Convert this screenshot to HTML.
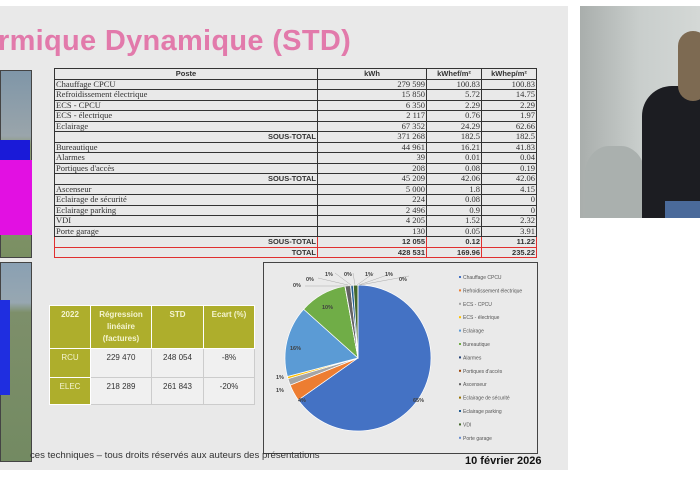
<!DOCTYPE html>
<html><head><meta charset="utf-8"><style>
body{margin:0;width:700px;height:480px;background:#fff;position:relative;overflow:hidden;font-family:"Liberation Sans",sans-serif}
.slide{position:absolute;left:0;top:6px;width:568px;height:464px;background:#e9e9e9}
.title{position:absolute;left:-2px;top:25px;font-size:29px;font-weight:bold;color:#e27aab;white-space:nowrap;letter-spacing:0.3px}
table.t{position:absolute;left:54px;top:68px;border-collapse:collapse;font-family:"Liberation Serif",serif;font-size:8.5px;color:#333}
table.t td{border:1px solid #333;height:9.5px;padding:0 1px;line-height:9px;white-space:nowrap}
table.t td.n{text-align:right}
table.t tr.h td{text-align:center;font-family:"Liberation Sans",sans-serif;font-weight:bold;font-size:7.5px}
table.t tr.s td{font-weight:bold;font-family:"Liberation Sans",sans-serif;font-size:7.5px}
table.t tr.s td.p{font-weight:normal;font-family:"Liberation Serif",serif;font-size:8.5px}
table.t tr.r td{border:1.5px solid #e03030}
table.s{position:absolute;left:49px;top:305px;border-collapse:collapse;font-size:8px;color:#333;text-align:center}
table.s td{border:1px solid #fff;padding:3px 2px;vertical-align:top;box-sizing:border-box;line-height:12px}
table.s td.o{background:#aeae2c;color:#f4f4d0;font-weight:bold}
table.s td.w{background:#f0f0f0;border:1px solid #ccc}
</style></head><body>
<div class="slide"></div>
<div class="title">rmique Dynamique (STD)</div>
<div style="position:absolute;left:0;top:70px;width:32px;height:188px;background:linear-gradient(#7f96a8 0,#9aa5ab 35%,#8b9a74 40%,#7a8f62 100%);border:1px solid #444;box-sizing:border-box"></div>
<div style="position:absolute;left:0;top:140px;width:30px;height:30px;background:#1a1ad8"></div>
<div style="position:absolute;left:0;top:160px;width:32px;height:75px;background:#e210e2"></div>
<div style="position:absolute;left:0;top:262px;width:32px;height:200px;background:linear-gradient(#8aa0b3 0,#97a7b1 20%,#7d8f6a 25%,#738a62 100%);border:1px solid #444;box-sizing:border-box"></div>
<div style="position:absolute;left:0;top:300px;width:10px;height:95px;background:#1f2ee0"></div>
<table class="t">
<tr class="h"><td style="width:260px">Poste</td><td style="width:106px">kWh</td><td style="width:52px">kWhef/m²</td><td style="width:52px">kWhep/m²</td></tr>
<tr><td>Chauffage CPCU</td><td class="n">279 599</td><td class="n">100.83</td><td class="n">100.83</td></tr>
<tr><td>Refroidissement électrique</td><td class="n">15 850</td><td class="n">5.72</td><td class="n">14.75</td></tr>
<tr><td>ECS - CPCU</td><td class="n">6 350</td><td class="n">2.29</td><td class="n">2.29</td></tr>
<tr><td>ECS - électrique</td><td class="n">2 117</td><td class="n">0.76</td><td class="n">1.97</td></tr>
<tr><td>Eclairage</td><td class="n">67 352</td><td class="n">24.29</td><td class="n">62.66</td></tr>
<tr class="s"><td class="n">SOUS-TOTAL</td><td class="n p">371 268</td><td class="n p">182.5</td><td class="n p">182.5</td></tr>
<tr><td>Bureautique</td><td class="n">44 961</td><td class="n">16.21</td><td class="n">41.83</td></tr>
<tr><td>Alarmes</td><td class="n">39</td><td class="n">0.01</td><td class="n">0.04</td></tr>
<tr><td>Portiques d'accès</td><td class="n">208</td><td class="n">0.08</td><td class="n">0.19</td></tr>
<tr class="s"><td class="n">SOUS-TOTAL</td><td class="n p">45 209</td><td class="n p">42.06</td><td class="n p">42.06</td></tr>
<tr><td>Ascenseur</td><td class="n">5 000</td><td class="n">1.8</td><td class="n">4.15</td></tr>
<tr><td>Eclairage de sécurité</td><td class="n">224</td><td class="n">0.08</td><td class="n">0</td></tr>
<tr><td>Eclairage parking</td><td class="n">2 496</td><td class="n">0.9</td><td class="n">0</td></tr>
<tr><td>VDI</td><td class="n">4 205</td><td class="n">1.52</td><td class="n">2.32</td></tr>
<tr><td>Porte garage</td><td class="n">130</td><td class="n">0.05</td><td class="n">3.91</td></tr>
<tr class="s r"><td class="n">SOUS-TOTAL</td><td class="n">12 055</td><td class="n">0.12</td><td class="n">11.22</td></tr>
<tr class="s r"><td class="n">TOTAL</td><td class="n">428 531</td><td class="n">169.96</td><td class="n">235.22</td></tr>
</table>
<table class="s">
<tr><td class="o" style="width:41px;height:40px">2022</td><td class="o" style="width:61px">Régression linéaire (factures)</td><td class="o" style="width:52px">STD</td><td class="o" style="width:51px">Ecart (%)</td></tr>
<tr><td class="o" style="height:29px;font-weight:normal">RCU</td><td class="w">229 470</td><td class="w">248 054</td><td class="w">-8%</td></tr>
<tr><td class="o" style="height:27px;font-weight:normal">ELEC</td><td class="w">218 289</td><td class="w">261 843</td><td class="w">-20%</td></tr>
</table>
<svg style="position:absolute;left:263px;top:262px" width="275" height="192" id="pie">
<rect x="0.5" y="0.5" width="274" height="191" fill="#eaeaea" stroke="#444"/>
</svg>
<div style="position:absolute;left:30px;top:450px;font-size:9.6px;color:#333;white-space:nowrap">ces techniques – tous droits réservés aux auteurs des présentations</div>
<div style="position:absolute;left:465px;top:455px;font-size:11px;font-weight:bold;color:#111;white-space:nowrap">10 février 2026</div>
<div style="position:absolute;left:580px;top:6px;width:120px;height:212px;background:linear-gradient(90deg,#a9aeac,#c9cecc 50%,#d4d8d6);overflow:hidden">
<div style="position:absolute;left:5px;top:140px;width:60px;height:72px;border-radius:40% 40% 0 0;background:#aab0ae"></div>
<div style="position:absolute;left:62px;top:80px;width:70px;height:132px;border-radius:30px 0 0 0;background:#1c1d22"></div>
<div style="position:absolute;left:98px;top:25px;width:30px;height:70px;border-radius:15px;background:#7d6a52"></div>
<div style="position:absolute;left:85px;top:195px;width:40px;height:17px;background:#4a6a9a"></div>
</div>
<script>
var v=[279599,15850,6350,2117,67352,44961,39,208,5000,224,2496,4205,130];
var c=['#4472c4','#ed7d31','#a5a5a5','#ffc000','#5b9bd5','#70ad47','#264478','#9e480e','#636363','#997300','#255e91','#43682b','#698ed0'];
var n=['Chauffage CPCU','Refroidissement électrique','ECS - CPCU','ECS - électrique','Eclairage','Bureautique','Alarmes','Portiques d\'accès','Ascenseur','Eclairage de sécurité','Eclairage parking','VDI','Porte garage'];
var T=v.reduce((a,b)=>a+b),s=document.getElementById('pie'),cx=95,cy=96,r=73,a=0,h='';
v.forEach(function(x,i){var b=a+x/T*2*Math.PI;var x1=cx+r*Math.sin(a),y1=cy-r*Math.cos(a),x2=cx+r*Math.sin(b),y2=cy-r*Math.cos(b);
h+='<path d="M'+cx+','+cy+'L'+x1+','+y1+'A'+r+','+r+' 0 '+((b-a)>Math.PI?1:0)+' 1 '+x2+','+y2+'Z" fill="'+c[i]+'" stroke="#fff" stroke-width="0.7"/>';a=b;});
h+='<g stroke="#aaa" stroke-width="0.5" fill="none"><path d="M42,24 L80,24 L90,24"/><path d="M55,16 L85,23"/><path d="M72,11 L88,23"/><path d="M90,11 L92,23"/><path d="M111,11 L94,23"/><path d="M130,11 L96,23"/><path d="M146,14 L97,23"/></g>';
h+='<g font-size="5.5" font-weight="bold" fill="#404040" font-family="Liberation Sans">';
[['65%',150,140],['4%',35,140],['16%',27,88],['10%',59,47],['1%',13,117],['1%',13,130],['0%',30,25],['0%',43,19],['1%',62,14],['0%',81,14],['1%',102,14],['1%',122,14],['0%',136,19]].forEach(function(t){h+='<text x="'+t[1]+'" y="'+t[2]+'">'+t[0]+'</text>';});
h+='</g><g font-size="5" fill="#555" font-family="Liberation Sans">';
n.forEach(function(t,i){var y=17+i*13.4;h+='<rect x="196" y="'+(y-3)+'" width="2" height="2" fill="'+c[i]+'"/><text x="200" y="'+y+'">'+t+'</text>';});
h+='</g>';s.innerHTML+=h;
</script>
</body></html>
